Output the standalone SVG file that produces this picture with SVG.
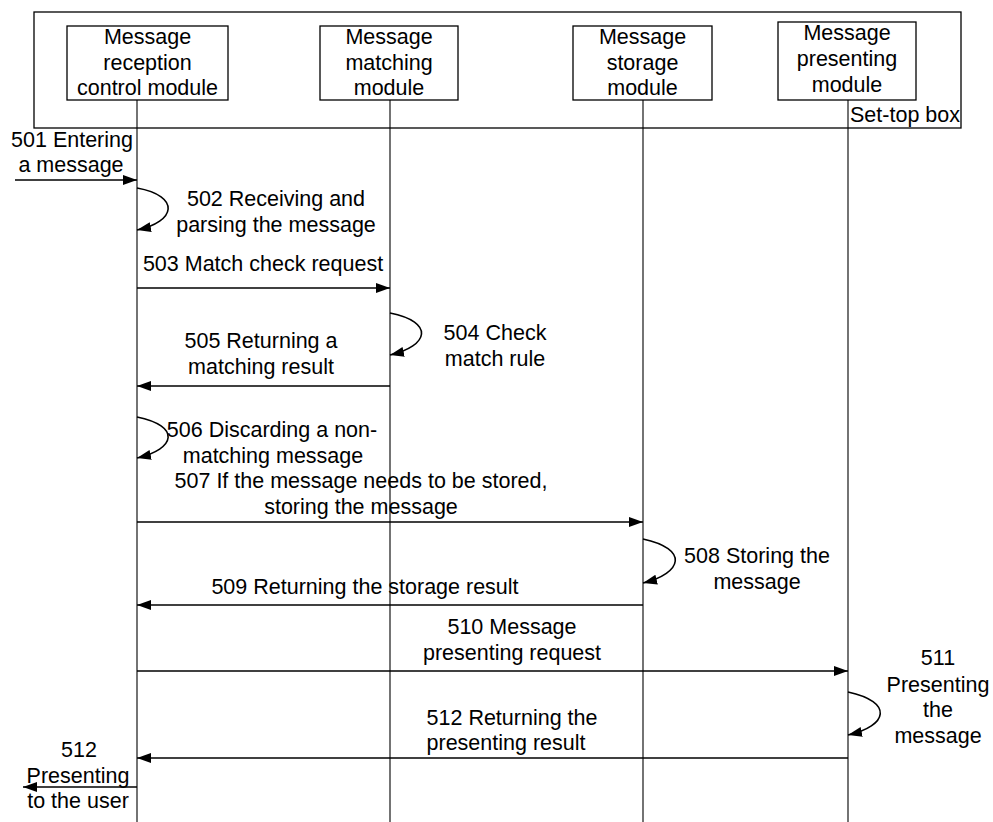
<svg xmlns="http://www.w3.org/2000/svg" width="993" height="822" viewBox="0 0 993 822">
<style>
text{font-family:"Liberation Sans",Arial,sans-serif;font-size:21.5px;fill:#000;text-anchor:middle}
.box{fill:#fff;stroke:#000;stroke-width:1.3}
.life{stroke:#000;stroke-width:1.1;fill:none}
.msg{stroke:#000;stroke-width:1.6;fill:none;marker-end:url(#ah)}
</style>
<defs>
<marker id="ah" markerUnits="userSpaceOnUse" markerWidth="16" markerHeight="12" refX="14" refY="5" orient="auto">
<path d="M0,0 L14,5 L0,10 z" fill="#000"/>
</marker>
</defs>
<rect width="993" height="822" fill="#fff"/>
<g id="settop">
<rect class="box" x="34" y="12" width="927" height="116"/>
<text x="905" y="122">Set-top box</text>
</g>
<g id="lifelines">
<line class="life" x1="137" y1="100" x2="137" y2="822"/>
<line class="life" x1="390" y1="100" x2="390" y2="822"/>
<line class="life" x1="643" y1="100" x2="643" y2="822"/>
<line class="life" x1="848" y1="100" x2="848" y2="822"/>
</g>
<g id="n1">
<rect class="box" x="67" y="26" width="161" height="74"/>
<text x="147.5" y="44">Message</text>
<text x="147.5" y="70">reception</text>
<text x="147.5" y="95">control module</text>
</g>
<g id="n2">
<rect class="box" x="320" y="26" width="138" height="74"/>
<text x="389" y="44">Message</text>
<text x="389" y="70">matching</text>
<text x="389" y="95">module</text>
</g>
<g id="n3">
<rect class="box" x="573" y="26" width="139" height="74"/>
<text x="642.5" y="44">Message</text>
<text x="642.5" y="70">storage</text>
<text x="642.5" y="95">module</text>
</g>
<g id="n4">
<rect class="box" x="778" y="22" width="138" height="78"/>
<text x="847" y="40">Message</text>
<text x="847" y="66">presenting</text>
<text x="847" y="92">module</text>
</g>
<g id="connectors">
<line class="msg" x1="15" y1="180" x2="137" y2="180"/>
<path class="msg" d="M137,188 C181,196 176,222 137,230"/>
<line class="msg" x1="137" y1="288" x2="390" y2="288"/>
<path class="msg" d="M390,313 C435,322 429,346 390,355"/>
<line class="msg" x1="390" y1="386" x2="137" y2="386"/>
<path class="msg" d="M137,417 C181,426 176,449 137,458"/>
<line class="msg" x1="137" y1="522" x2="643" y2="522"/>
<path class="msg" d="M643,539 C689,549 683,573 643,583"/>
<line class="msg" x1="643" y1="605" x2="137" y2="605"/>
<line class="msg" x1="137" y1="671" x2="848" y2="671"/>
<path class="msg" d="M848,692 C894,702 888,726 848,735"/>
<line class="msg" x1="848" y1="758" x2="137" y2="758"/>
<line class="msg" x1="137" y1="787" x2="23" y2="787"/>
</g>
<g id="labels">
<text x="72" y="147">501 Entering</text>
<text x="71" y="172">a message</text>
<text x="276" y="206">502 Receiving and</text>
<text x="276" y="232">parsing the message</text>
<text x="263" y="271">503 Match check request</text>
<text x="495" y="340">504 Check</text>
<text x="495" y="366">match rule</text>
<text x="261" y="348">505 Returning a</text>
<text x="261" y="374">matching result</text>
<text x="272" y="437">506 Discarding a non-</text>
<text x="273" y="463">matching message</text>
<text x="361" y="488">507 If the message needs to be stored,</text>
<text x="361" y="514">storing the message</text>
<text x="757" y="563">508 Storing the</text>
<text x="757" y="589">message</text>
<text x="365" y="594">509 Returning the storage result</text>
<text x="512" y="634">510 Message</text>
<text x="512" y="660">presenting request</text>
<text x="938" y="665">511</text>
<text x="938" y="692">Presenting</text>
<text x="938" y="717">the</text>
<text x="938" y="743">message</text>
<text x="512" y="725">512 Returning the</text>
<text x="506" y="750">presenting result</text>
<text x="79" y="757">512</text>
<text x="78" y="783">Presenting</text>
<text x="78" y="808">to the user</text>
</g>
</svg>
